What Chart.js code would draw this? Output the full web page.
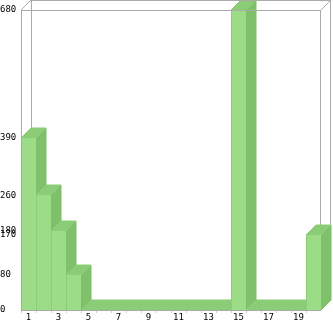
<!DOCTYPE html>
<html>
<head>
<meta charset="utf-8">
<script src="https://cdn.jsdelivr.net/npm/chart.js@4"></script>
<style>
  html, body { margin: 0; padding: 0; background: #fff; }
  #chart { display: block; }
</style>
</head>
<body>
<canvas id="chart" width="333" height="321"></canvas>
<script>
// data
const categories = ['1', '2', '3', '4', '5', '6', '7', '8', '9', '10',
  '11', '12', '13', '14', '15', '16', '17', '18', '19', '20'];
const values = [390, 260, 180, 80, 0, 0, 0, 0, 0, 0,
  0, 0, 0, 0, 680, 0, 0, 0, 0, 170];
const yTicks = [0, 80, 170, 180, 260, 390, 680];

const DEPTH = 10; // 3d offset in px
const FRONT = '#9cdc87';
const TOP = '#8bcd76';
const SIDE = '#7fc06b';
const EDGE = '#8ccd78';
const FRAME = '#aaaaaa';

function line(ctx, x1, y1, x2, y2) {
  ctx.beginPath();
  ctx.moveTo(x1, y1);
  ctx.lineTo(x2, y2);
  ctx.stroke();
}

// fill + stroke in the same colour so neighbouring faces leave no seams
function face(ctx, color, pts) {
  ctx.fillStyle = color;
  ctx.strokeStyle = color;
  ctx.lineWidth = 1;
  ctx.beginPath();
  ctx.moveTo(pts[0][0], pts[0][1]);
  for (let k = 1; k < pts.length; k++) ctx.lineTo(pts[k][0], pts[k][1]);
  ctx.closePath();
  ctx.fill();
  ctx.stroke();
}

const bars3d = {
  id: 'bars3d',
  beforeDatasetsDraw(chart) {
    const { ctx, chartArea: a } = chart;
    ctx.save();
    ctx.strokeStyle = FRAME;
    ctx.lineWidth = 1;
    // back wall + right side
    line(ctx, a.left + DEPTH + 0.5, a.top - DEPTH, a.left + DEPTH + 0.5, a.bottom - DEPTH);
    line(ctx, a.right + DEPTH - 0.5, a.top - DEPTH, a.right + DEPTH - 0.5, a.bottom - DEPTH);
    line(ctx, a.right - 0.5, a.top, a.right - 0.5, a.bottom);
    line(ctx, a.right, a.bottom, a.right + DEPTH, a.bottom - DEPTH);
    ctx.restore();
  },
  afterDatasetsDraw(chart) {
    const { ctx, chartArea: a } = chart;
    const meta = chart.getDatasetMeta(0);
    ctx.save();
    meta.data.forEach((el, i) => {
      const p = el.getProps(['x', 'y', 'base', 'width'], true);
      const l = Math.round(p.x - p.width / 2);
      const r = Math.round(p.x + p.width / 2);
      const t = Math.round(p.y);
      const b = Math.round(p.base);
      if (b - t > 0) {
        face(ctx, SIDE, [[r, t], [r + DEPTH, t - DEPTH], [r + DEPTH, b - DEPTH], [r, b]]);
      }
      face(ctx, TOP, [[l, t], [l + DEPTH, t - DEPTH], [r + DEPTH, t - DEPTH], [r, t]]);
      if (b - t > 0) {
        ctx.fillStyle = FRONT;
        ctx.fillRect(l, t, r - l, b - t);
        if (i > 0) {
          ctx.strokeStyle = EDGE;
          ctx.lineWidth = 1;
          line(ctx, l + 0.5, t, l + 0.5, b);
        }
      }
    });
    // front frame lines on top
    ctx.strokeStyle = FRAME;
    ctx.lineWidth = 1;
    line(ctx, a.left + 0.5, a.top, a.left + 0.5, a.bottom);
    line(ctx, a.left, a.top + 0.5, a.right, a.top + 0.5);
    line(ctx, a.left + DEPTH, a.top - DEPTH + 0.5, a.right + DEPTH, a.top - DEPTH + 0.5);
    line(ctx, a.left, a.top, a.left + DEPTH, a.top - DEPTH);
    line(ctx, a.right, a.top, a.right + DEPTH, a.top - DEPTH);
    line(ctx, a.left, a.bottom + 0.5, a.right, a.bottom + 0.5);
    // little ticks under the axis
    ctx.strokeStyle = '#cccccc';
    meta.data.forEach((el) => {
      const x = Math.round(el.x - el.width / 2) + 0.5;
      line(ctx, x, a.bottom + 1, x, a.bottom + 3);
    });
    ctx.restore();
  }
};

new Chart(document.getElementById('chart'), {
  type: 'bar',
  data: {
    labels: categories,
    datasets: [{
      data: values,
      backgroundColor: 'rgba(0,0,0,0)',
      borderWidth: 0,
      barPercentage: 1,
      categoryPercentage: 1
    }]
  },
  options: {
    responsive: false,
    animation: false,
    layout: { padding: { top: 10, right: 12, left: 0, bottom: 0 } },
    plugins: { legend: { display: false }, tooltip: { enabled: false } },
    scales: {
      x: {
        grid: { display: false, drawTicks: false },
        border: { display: false },
        afterFit(scale) { scale.height = 11; },
        ticks: {
          padding: 2,
          maxRotation: 0,
          autoSkip: false,
          color: '#000',
          font: { family: 'DejaVu Sans Mono', size: 9 },
          callback(v, i) { return i % 2 === 0 ? categories[i] : ''; }
        }
      },
      y: {
        min: 0,
        max: 680,
        grid: { display: false, drawTicks: false },
        border: { display: false },
        afterFit(scale) { scale.width = 21; },
        afterBuildTicks(scale) { scale.ticks = yTicks.map(v => ({ value: v })); },
        ticks: {
          autoSkip: false,
          crossAlign: 'far',
          padding: 0,
          color: '#000',
          font: { family: 'DejaVu Sans Mono', size: 9 }
        }
      }
    }
  },
  plugins: [bars3d]
});
</script>
</body>
</html>
